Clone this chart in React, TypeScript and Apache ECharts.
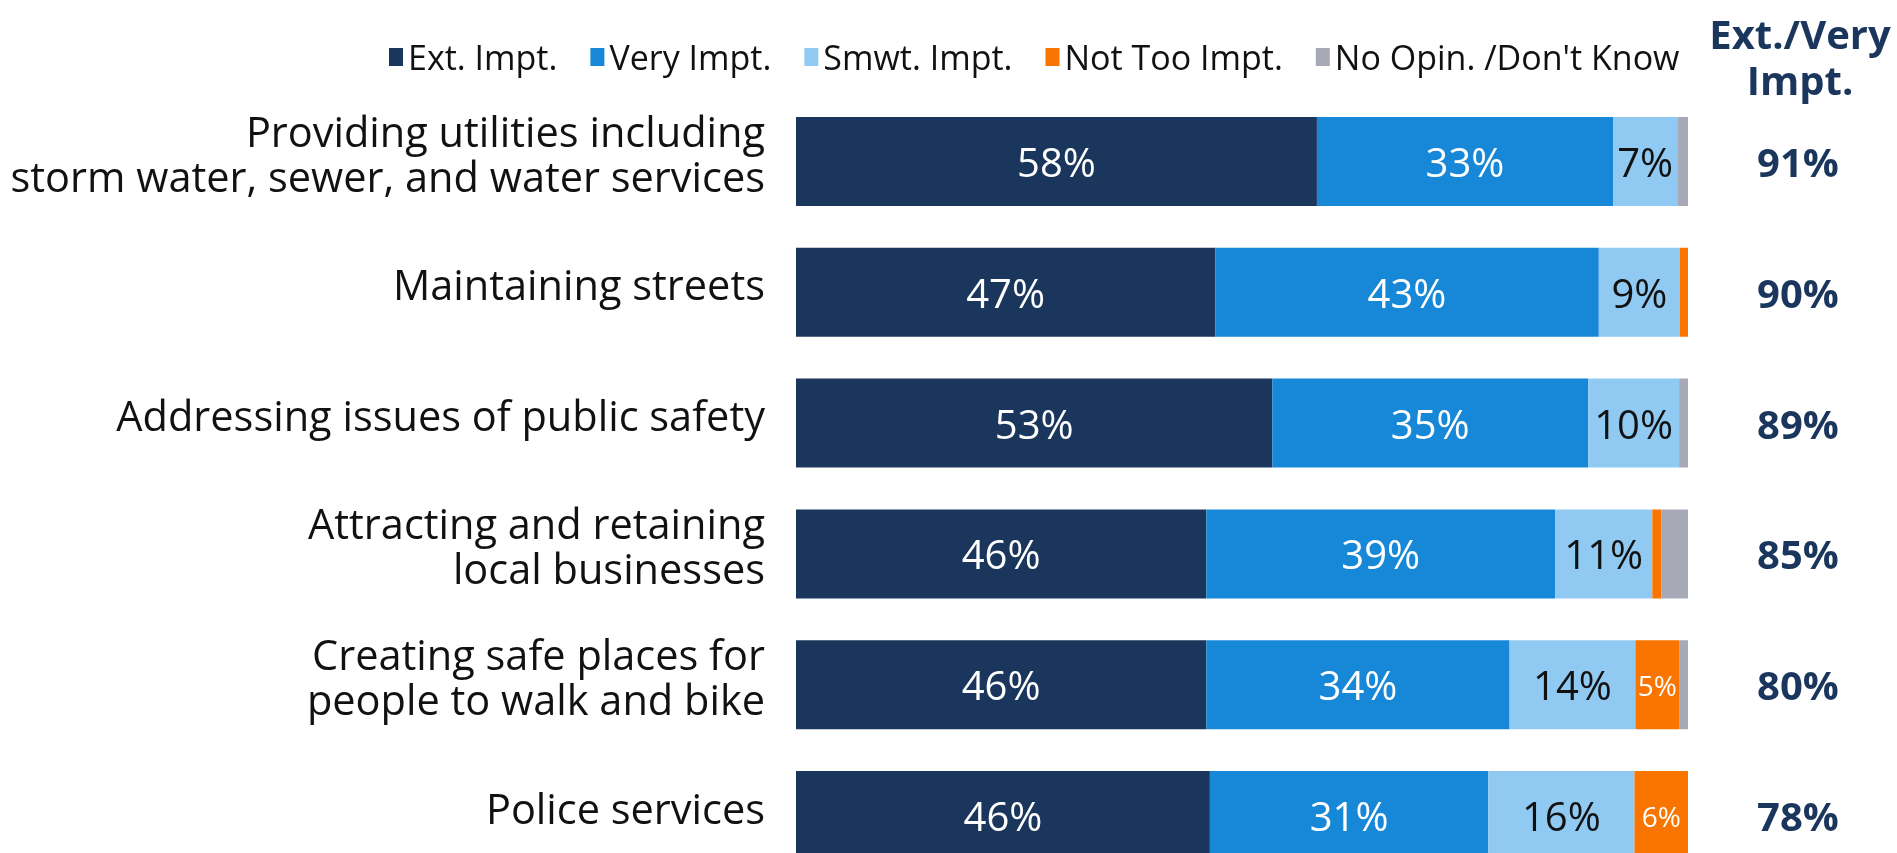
import React, { useEffect, useRef } from "react";
import * as echarts from "echarts";

const categories = [
  "Providing utilities including\nstorm water, sewer, and water services",
  "Maintaining streets",
  "Addressing issues of public safety",
  "Attracting and retaining\nlocal businesses",
  "Creating safe places for\npeople to walk and bike",
  "Police services",
];
const extImpt = [58.4, 47.0, 53.4, 46.0, 46.0, 46.4];
const veryImpt = [33.2, 43.0, 35.4, 39.1, 34.0, 31.2];
const smwtImpt = [7.2, 9.1, 10.2, 10.9, 14.1, 16.4];
const notTooImpt = [0, 1.0, 0, 1.0, 4.9, 6.0];
const noOpinion = [1.2, 0, 1.0, 3.0, 1.0, 0];
const extVeryTotals = [91, 90, 89, 85, 80, 78];
const seriesNames = ["Ext. Impt.", "Very Impt.", "Smwt. Impt.", "Not Too Impt.", "No Opin. /Don't Know"];

const FONT = "'Open Sans', 'Noto Sans', sans-serif";
const NAVY = "#1B365D";

export default function App() {
  const ref = useRef<HTMLDivElement>(null);
  useEffect(() => {
    if (!ref.current) return;
    const chart = echarts.init(ref.current, null, { renderer: "svg" });
    const colors = ["#1B365D", "#1787D8", "#90CAF2", "#F97500", "#A7A9B7"];
    const datas = [extImpt, veryImpt, smwtImpt, notTooImpt, noOpinion];
    const labelStyles: any[] = [
      { show: true, color: "#ffffff", fontSize: 40 },
      { show: true, color: "#ffffff", fontSize: 40 },
      { show: true, color: "#111111", fontSize: 40 },
      { show: true, color: "#ffffff", fontSize: 28, minShow: 4 },
      { show: false },
    ];
    const series = datas.map((d, si) => {
      const ls = labelStyles[si];
      const minShow = ls.minShow || 0;
      return {
        name: seriesNames[si],
        type: "bar",
        stack: "total",
        data: d,
        barWidth: 89,
        xAxisIndex: 0,
        yAxisIndex: 0,
        itemStyle: { color: colors[si] },
        label: {
          show: ls.show,
          position: "inside",
          color: ls.color,
          fontSize: ls.fontSize,
          fontFamily: FONT,
          formatter: (p: any) => (p.value >= minShow && p.value > 0 ? Math.round(p.value) + "%" : ""),
        },
      };
    });
    chart.setOption({
      animation: false,
      textStyle: { fontFamily: FONT },
      legend: {
        left: 384,
        top: 33,
        itemWidth: 14,
        itemHeight: 18,
        itemGap: 33,
        icon: "rect",
        textStyle: { fontSize: 34, color: "#111111", fontFamily: FONT, lineHeight: 38 },
        data: seriesNames,
      },
      graphic: [
        {
          type: "text",
          x: 1800,
          y: 10,
          style: {
            text: "Ext./Very\nImpt.",
            fill: NAVY,
            font: "bold 40px 'Open Sans', sans-serif",
            textAlign: "center",
            textVerticalAlign: "top",
            lineHeight: 46,
          },
        },
      ],
      grid: [
        { left: 796, top: 96, width: 892, height: 785 },
        { left: 796, top: 88, width: 892, height: 785 },
      ],
      xAxis: [
        { type: "value", min: 0, max: 100, show: false, gridIndex: 0 },
        { type: "value", min: 0, max: 100, show: false, gridIndex: 1 },
      ],
      yAxis: [
        {
          type: "category",
          inverse: true,
          gridIndex: 0,
          position: "right",
          data: categories,
          axisLine: { show: false },
          axisTick: { show: false },
          axisLabel: {
            fontSize: 40,
            fontWeight: "bold",
            color: NAVY,
            fontFamily: FONT,
            margin: 110,
            align: "center",
            formatter: (_v: string, i: number) => extVeryTotals[i] + "%",
          },
        },
        {
          type: "category",
          inverse: true,
          gridIndex: 1,
          position: "left",
          data: categories,
          axisLine: { show: false },
          axisTick: { show: false },
          axisLabel: {
            fontSize: 41.5,
            color: "#111111",
            fontFamily: FONT,
            lineHeight: 45,
            margin: 31,
            align: "right",
          },
        },
      ],
      series,
    });
    return () => chart.dispose();
  }, []);
  return <div ref={ref} style={{ position: "fixed", left: 0, top: 0, width: 1897, height: 900 }} />;
}
